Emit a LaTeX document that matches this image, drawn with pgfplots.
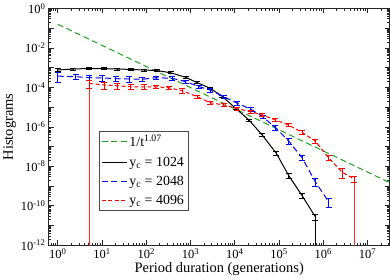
\documentclass[border=0pt]{standalone}
\usepackage{fontspec}
\setmainfont{Liberation Serif}
\usepackage{pgfplots}
\usepackage{pgfplotstable}
\pgfplotsset{compat=1.18}
\definecolor{ggreen}{RGB}{30,165,30}
\definecolor{bblue}{RGB}{0,0,255}
\definecolor{rred}{RGB}{255,0,0}
\definecolor{lred}{RGB}{255,40,40}
\pgfplotstableread{
x y e
1 7.59e-4 0.15
2.239 8.51e-4 0.12
5.129 9.12e-4 0.12
11.22 8.91e-4 0.12
22.39 8.51e-4 0.12
44.67 8.13e-4 0.12
89.13 7.59e-4 0.12
177.8 7.08e-4 0.12
354.8 5.50e-4 0.12
776.2 3.24e-4 0.12
1413 1.74e-4 0.12
2818 8.91e-5 0.12
5129 3.63e-5 0.12
10471 8.71e-6 0.12
20893 2.24e-6 0.12
41687 3.89e-7 0.15
87096 4.57e-8 0.2
165959 3.39e-9 0.25
331131 3.31e-10 0.25
660693 2.82e-11 0.35
}\blacktab
\pgfplotstableread{
x y e
1 3.72e-4 0.5
2.570 3.47e-4 0.3
5.129 3.09e-4 0.3
10.23 3.02e-4 0.3
20.42 2.75e-4 0.3
40.74 2.69e-4 0.3
81.28 2.57e-4 0.25
166.0 3.09e-4 0.2
389.0 2.88e-4 0.2
776.2 1.95e-4 0.2
1549 1.10e-4 0.2
2818 7.24e-5 0.2
5623 3.39e-5 0.2
11482 1.55e-5 0.2
22909 7.94e-6 0.2
43652 3.16e-6 0.2
83176 9.12e-7 0.25
165959 1.91e-7 0.3
331131 2.75e-8 0.3
660693 1.66e-9 0.4
1318257 1.62e-10 0.5
}\bluetab
\pgfplotstableread{
x y e
5.129 1.58e-4 0.45
11.22 1.32e-4 0.4
22.39 1.20e-4 0.35
44.67 1.07e-4 0.3
89.13 1.07e-4 0.25
162.2 1.07e-4 0.2
323.6 9.55e-5 0.2
645.7 6.76e-5 0.3
1413 3.39e-5 0.2
2818 1.66e-5 0.15
5623 1.29e-5 0.15
11482 8.32e-6 0.15
22909 5.89e-6 0.15
41687 3.98e-6 0.15
83176 2.24e-6 0.15
165959 1.23e-6 0.15
331131 5.25e-7 0.2
660693 1.91e-7 0.25
1318257 2.75e-8 0.3
2691535 5.01e-9 0.5
5011872 2.24e-9 0.3
}\redtab
\begin{document}
\begin{tikzpicture}
\begin{axis}[
  scale only axis, width=341bp, height=237bp,
  xmode=log, ymode=log,
  xmin=0.631, xmax=3.162e7, ymin=1e-12, ymax=1,
  xtick={1,10,100,1000,1e4,1e5,1e6,1e7},
  minor xtick={0.7,0.8,0.9,2,3,4,5,6,7,8,9,20,30,40,50,60,70,80,90,200,300,400,500,600,700,800,900,2e3,3e3,4e3,5e3,6e3,7e3,8e3,9e3,2e4,3e4,4e4,5e4,6e4,7e4,8e4,9e4,2e5,3e5,4e5,5e5,6e5,7e5,8e5,9e5,2e6,3e6,4e6,5e6,6e6,7e6,8e6,9e6,2e7,3e7},
  ytick={1,1e-2,1e-4,1e-6,1e-8,1e-10,1e-12},
  extra y ticks={1e-1,1e-3,1e-5,1e-7,1e-9,1e-11},
  extra y tick labels={},
  minor ytick={2e-12,3e-12,4e-12,5e-12,6e-12,7e-12,8e-12,9e-12,2e-11,3e-11,4e-11,5e-11,6e-11,7e-11,8e-11,9e-11,2e-10,3e-10,4e-10,5e-10,6e-10,7e-10,8e-10,9e-10,2e-9,3e-9,4e-9,5e-9,6e-9,7e-9,8e-9,9e-9,2e-8,3e-8,4e-8,5e-8,6e-8,7e-8,8e-8,9e-8,2e-7,3e-7,4e-7,5e-7,6e-7,7e-7,8e-7,9e-7,2e-6,3e-6,4e-6,5e-6,6e-6,7e-6,8e-6,9e-6,2e-5,3e-5,4e-5,5e-5,6e-5,7e-5,8e-5,9e-5,2e-4,3e-4,4e-4,5e-4,6e-4,7e-4,8e-4,9e-4,2e-3,3e-3,4e-3,5e-3,6e-3,7e-3,8e-3,9e-3,2e-2,3e-2,4e-2,5e-2,6e-2,7e-2,8e-2,9e-2,0.2,0.3,0.4,0.5,0.6,0.7,0.8,0.9},
  xticklabel={10\textsuperscript{\pgfmathparse{int(round(\tick/2.302585093))}\pgfmathresult}},
  yticklabel={10\textsuperscript{\pgfmathparse{int(round(\tick/2.302585093))}\pgfmathresult}},
  tick label style={font=\fontsize{12.5}{14}\selectfont},
  xlabel={Period duration (generations)},
  ylabel={Histograms},
  label style={font=\fontsize{14.5}{17}\selectfont},
  xlabel style={yshift=3bp},
  ylabel style={yshift=-2bp},
  major tick length=5bp, minor tick length=2.5bp,
  axis line style={black!85, line width=0.8bp},
  every tick/.style={black!85, line width=0.6bp},
  legend style={at={(0.147,0.148)}, anchor=south west, draw=black!70,
    font=\fontsize{14}{16}\selectfont, row sep=4.5bp, inner sep=2bp},
  legend cell align=left,
  legend image code/.code={\draw[#1] (0bp,0bp) -- (25bp,0bp);},
  eb/.style={error bars/.cd, y dir=both, y explicit relative,
    error bar style={solid, line width=0.8bp},
    error mark options={solid, rotate=90, mark size=3bp, line width=0.8bp}},
]
\addlegendimage{ggreen, line width=1.2bp, dash pattern=on 6bp off 3.5bp}
\addlegendentry{1/t\textsuperscript{1.07}}
\addlegendimage{black, line width=1.1bp}
\addlegendentry{y\textsubscript{c} = 1024}
\addlegendimage{bblue, line width=1.3bp, dash pattern=on 6bp off 3.5bp}
\addlegendentry{y\textsubscript{c} = 2048}
\addlegendimage{rred, line width=1.2bp, dash pattern=on 4bp off 2.5bp}
\addlegendentry{y\textsubscript{c} = 4096}
\addplot[lred, line width=1.3bp, forget plot] coordinates {(5.129,2.5e-4) (5.129,1e-13)};
\addplot[lred, line width=1.3bp, forget plot] coordinates {(5011872,2.7e-9) (5011872,1e-13)};
\addplot[ggreen, line width=1bp, dash pattern=on 6bp off 3.5bp, forget plot] coordinates {(1,0.158) (3.162e7,1.50e-9)};
\addplot[black, line width=1bp, forget plot, eb] table[x=x, y=y, y error=e] {\blacktab};
\addplot[black, line width=1bp, forget plot] coordinates {(660693,2.82e-11) (660693,1e-13)};
\addplot[bblue, line width=1bp, dash pattern=on 6bp off 3.5bp, forget plot, eb] table[x=x, y=y, y error=e] {\bluetab};
\addplot[rred, line width=1bp, dash pattern=on 4bp off 2.5bp, forget plot, eb] table[x=x, y=y, y error=e] {\redtab};
\end{axis}
\end{tikzpicture}
\end{document}
